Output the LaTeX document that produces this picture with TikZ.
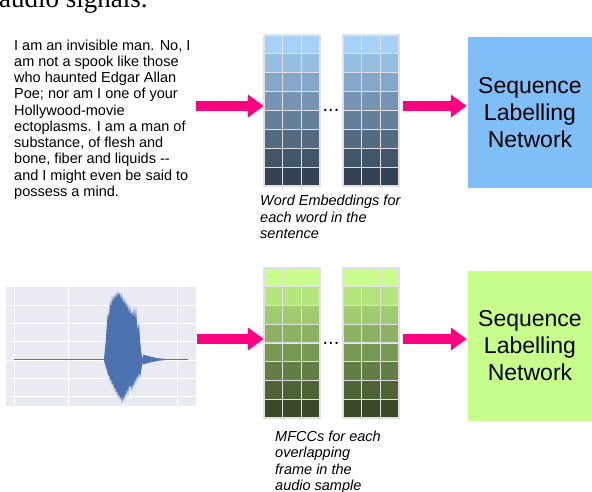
\documentclass[tikz,border=0pt]{standalone}
\usepackage{xcolor}
\usepackage{fontspec}
\setmainfont{Liberation Sans}
\newfontfamily\serifcap{Liberation Serif}
\usetikzlibrary{arrows.meta,positioning,calc}
\definecolor{ArrowPink}{RGB}{255,0,128}
\definecolor{EmbTop}{RGB}{166,210,250}
\definecolor{EmbBottom}{RGB}{51,64,81}
\definecolor{MfccTop}{RGB}{200,255,140}
\definecolor{MfccBottom}{RGB}{58,74,40}
\definecolor{NetBlue}{RGB}{128,190,248}
\definecolor{NetGreen}{RGB}{200,255,140}
\definecolor{WaveBg}{RGB}{234,234,242}
\definecolor{WaveBlue}{RGB}{76,114,176}
\definecolor{CellLine}{RGB}{225,225,228}

\tikzset{
  fatarrow/.style={ArrowPink,line width=10.5pt,
    -{Triangle[length=16pt,width=22pt]}},
  cellbox/.style={draw=CellLine,line width=1.1pt},
  gridframe/.style={minimum width=56pt,minimum height=151pt,inner sep=0pt},
  netbox/.style={minimum width=124pt,inner sep=0pt,align=center,
    font=\fontsize{23}{27}\selectfont},
  bodytext/.style={inner sep=0pt,align=left,
    font=\fontsize{14.5}{16.25}\selectfont},
  captext/.style={inner sep=0pt,align=left,
    font=\fontsize{14.5}{16.8}\selectfont\itshape},
  dotstext/.style={inner sep=0pt,font=\fontsize{20}{22}\selectfont},
  waveline/.style={white,line width=0.9pt}
}

\begin{document}
\begin{tikzpicture}[x=1pt,y=-1pt]
  \useasboundingbox (0,0) rectangle (592,492);
  \clip (0,0) rectangle (592,492);

  % tail of the caption line above
  \node[anchor=base west,inner sep=0pt,font=\serifcap\fontsize{27}{30}\selectfont]
    (prevline) at (-1,8) {audio signals.};

  % ---- text input
  \node[bodytext,anchor=north west] (story) at (14,39.5) {%
    I am an invisible man. No, I\\
    am not a spook like those\\
    who haunted Edgar Allan\\
    Poe; nor am I one of your\\
    Hollywood-movie\\
    ectoplasms. I am a man of\\
    substance, of flesh and\\
    bone, fiber and liquids {-}{-}\\
    and I might even be said to\\
    possess a mind.};

  % ---- word embedding columns
  \foreach \gx/\gname in {264/embA,343/embB}{
    \node[gridframe] (\gname) at (\gx+28,110.5) {};
    \foreach \r in {0,...,7}{
      \pgfmathsetmacro\mixval{100-\r*100/7}
      \foreach \c in {0,1,2}
        \draw[cellbox,fill=EmbTop!\mixval!EmbBottom]
          (\gx+\c*18.667,35+\r*18.875) rectangle ++(18.667,18.875);
    }
  }
  \node[dotstext,anchor=base] (dotsA) at (331,112) {...};

  \node[captext,anchor=north west] (capA) at (260,194.5)
    {Word Embeddings for\\each word in the\\sentence};

  \node[netbox,minimum height=151pt,fill=NetBlue] (netA) at (530,112.5)
    {Sequence\\Labelling\\Network};

  \coordinate (inA) at ([yshift=4.5pt]embA.west);
  \coordinate (outA) at (netA.west |- inA);
  \draw[fatarrow,shorten <=5pt] (story.east |- inA) -- (inA);
  \draw[fatarrow,shorten <=4pt,shorten >=1pt] (embB.east |- inA) -- (outA);

  % ---- audio input
  \node[minimum width=190pt,minimum height=119pt,inner sep=0pt,fill=WaveBg]
    (wave) at (101,346.5) {};
  \foreach \gx in {14,68,123,177}
    \draw[waveline] (\gx,287) -- (\gx,406);
  \foreach \gy in {305,323.3,341.7,360,378.3,396.7}
    \draw[waveline] (6,\gy) -- (196,\gy);
  \draw[WaveBlue,line width=1.1pt] (14,359.5) -- (188,359.5);
  \draw[WaveBlue,line width=1.6pt] (62,359.5) -- (76,359.5);
  \fill[WaveBlue] plot coordinates {(143,354.5) (150,356.5) (158,358.3) (168,359.2)
    (168,359.8) (158,360.8) (150,362.5) (143,364.5)} -- cycle;
  \fill[WaveBlue] plot coordinates {
    (104,359) (105,349) (106,338) (107,322) (108,312) (109,318) (110,300)
    (111,308) (112,296) (113,303) (114,294) (115,300) (116,292) (117,298)
    (118,291) (119,296) (120,292) (121,300) (122,293) (123,304) (124,297)
    (125,306) (126,300) (127,309) (128,303) (129,314) (130,305) (131,316)
    (132,310) (133,318) (134,306) (135,320) (136,307) (137,324) (138,330)
    (139,322) (140,340) (141,350) (142,356) (143,359)
    (143,361) (142,366) (141,372) (140,378) (139,372) (138,380) (137,375)
    (136,384) (135,378) (134,388) (133,382) (132,392) (131,384) (130,390)
    (129,384) (128,396) (127,388) (126,398) (125,392) (124,403) (123,395)
    (122,404) (121,396) (120,400) (119,393) (118,398) (117,390) (116,394)
    (115,386) (114,390) (113,382) (112,386) (111,378) (110,382) (109,374)
    (108,376) (107,370) (106,368) (105,364) (104,361)} -- cycle;

  % ---- MFCC columns
  \foreach \gx/\gname in {264/mfccA,343/mfccB}{
    \node[gridframe] (\gname) at (\gx+28,343) {};
    \foreach \r in {0,...,7}{
      \pgfmathsetmacro\mixval{100-\r*100/7}
      \foreach \c in {0,1,2}
        \draw[cellbox,fill=MfccTop!\mixval!MfccBottom]
          (\gx+\c*18.667,268+\r*18.75) rectangle ++(18.667,18.75);
    }
  }
  \node[dotstext,anchor=base] (dotsB) at (331,344) {...};

  \node[captext,anchor=north west,font=\fontsize{14.5}{16.4}\selectfont\itshape]
    (capB) at (275,430.5)
    {MFCCs for each\\overlapping\\frame in the\\audio sample};

  \node[netbox,minimum height=150pt,fill=NetGreen] (netB) at (530,346)
    {Sequence\\Labelling\\Network};

  \coordinate (inB) at ([yshift=4pt]mfccA.west);
  \coordinate (outB) at (netB.west |- inB);
  \draw[fatarrow,shorten <=1pt] (wave.east |- inB) -- (inB);
  \draw[fatarrow,shorten <=4pt,shorten >=1pt] (mfccB.east |- inB) -- (outB);
\end{tikzpicture}
\end{document}
